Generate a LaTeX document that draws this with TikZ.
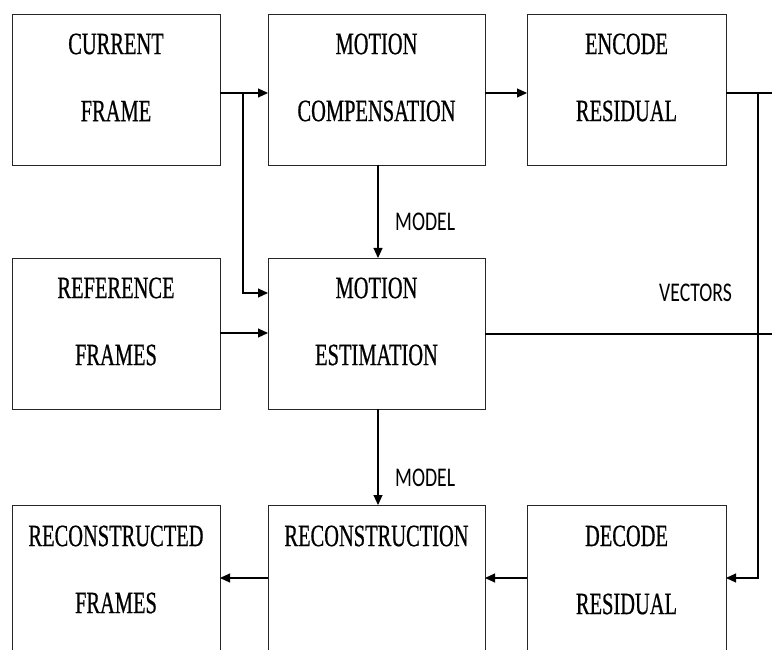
\documentclass[tikz,border=0pt]{standalone}
\usepackage{fontspec}
\usetikzlibrary{arrows.meta}
\newfontfamily\boxfont[FakeStretch=0.66,FakeBold=0.6]{Liberation Serif}
\newfontfamily\lblfont[FakeStretch=0.73]{Carlito}
\begin{document}
\begin{tikzpicture}[x=1pt,y=-1pt,
  box/.style={draw=black!85, line width=0.9pt, minimum width=#1, minimum height=151pt, anchor=north west, inner sep=0pt, outer sep=0pt},
  box/.default=208pt,
  txt/.style={font=\boxfont\fontsize{31}{31}\selectfont, inner sep=0pt, anchor=center},
  lbl/.style={font=\lblfont\fontsize{27}{27}\selectfont, inner sep=0pt, anchor=west},
  conn/.style={draw=black, line width=1.1pt},
  arr/.style={conn, -{Triangle[length=10pt,width=9pt]}}]
\clip (0,0) rectangle (772,650);
\fill[white] (0,0) rectangle (772,650);
% boxes
\node[box=208pt] (cf) at (12,14) {};
\node[box=217pt] (mc) at (268,14) {};
\node[box=199pt] (er) at (527,14) {};
\node[box=208pt] (rf) at (12,258) {};
\node[box=217pt] (me) at (268,258) {};
\node[box=208pt] (rcf) at (12,505) {};
\node[box=217pt] (rc) at (268,505) {};
\node[box=199pt] (dr) at (527,505) {};
% texts
\node[txt] (t1a) at ([yshift=-30pt]cf.north) {CURRENT};
\node[txt] (t1b) at ([yshift=-97pt]cf.north) {FRAME};
\node[txt] (t2a) at ([yshift=-30pt]mc.north) {MOTION};
\node[txt] (t2b) at ([yshift=-97pt]mc.north) {COMPENSATION};
\node[txt] (t3a) at ([yshift=-30pt]er.north) {ENCODE};
\node[txt] (t3b) at ([yshift=-97pt]er.north) {RESIDUAL};
\node[txt] (t4a) at ([yshift=-30pt]rf.north) {REFERENCE};
\node[txt] (t4b) at ([yshift=-97pt]rf.north) {FRAMES};
\node[txt] (t5a) at ([yshift=-30pt]me.north) {MOTION};
\node[txt] (t5b) at ([yshift=-97pt]me.north) {ESTIMATION};
\node[txt] (t6a) at ([yshift=-31pt]rcf.north) {RECONSTRUCTED};
\node[txt] (t6b) at ([yshift=-98pt]rcf.north) {FRAMES};
\node[txt] (t7a) at ([yshift=-31pt]rc.north) {RECONSTRUCTION};
\node[txt] (t8a) at ([yshift=-31pt]dr.north) {DECODE};
\node[txt] (t8b) at ([yshift=-99pt]dr.north) {RESIDUAL};
% labels
\node[lbl] (l1) at (395,222) {MODEL};
\node[lbl] (l2) at (395,478) {MODEL};
\node[lbl] (l3) at (659,293) {VECTORS};
% coordinates
\coordinate (j1) at (243,93);
\coordinate (j2) at (758,93);
\coordinate (e1) at (772,93);
\coordinate (e2) at (772,334);
% connectors
\draw[arr] ([yshift=-3.5pt]cf.east) -- ([yshift=-3.5pt]mc.west);
\draw[arr] (j1) |- ([yshift=40.5pt]me.west);
\draw[arr] ([yshift=0.5pt]rf.east) -- ([yshift=0.5pt]me.west);
\draw[arr] ([xshift=1.5pt]mc.south) -- ([xshift=1.5pt]me.north);
\draw[arr] ([yshift=-3.5pt]mc.east) -- ([yshift=-3.5pt]er.west);
\draw[conn] ([yshift=-3.5pt]er.east) -- (e1);
\draw[arr] (j2) |- ([yshift=2.5pt]dr.east);
\draw[conn] ([yshift=-0.5pt]me.east) -- (e2);
\draw[arr] ([xshift=1.5pt]me.south) -- ([xshift=1.5pt]rc.north);
\draw[arr] ([yshift=2.5pt]dr.west) -- ([yshift=2.5pt]rc.east);
\draw[arr] ([yshift=2.5pt]rc.west) -- ([yshift=2.5pt]rcf.east);
\end{tikzpicture}
\end{document}
